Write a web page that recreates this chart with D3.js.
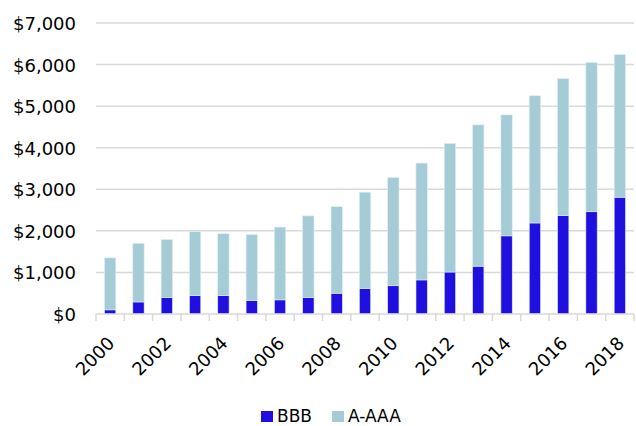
<!DOCTYPE html>
<html>
<head>
<meta charset="utf-8">
<script src="https://cdn.jsdelivr.net/npm/d3@7"></script>
<style>
  html, body { margin: 0; padding: 0; background: #fff; }
  svg { display: block; font-family: "DejaVu Sans", Verdana, sans-serif; }
</style>
</head>
<body>
<svg id="chart" width="636" height="426"></svg>
<script>
// Issuance by rating bucket, in $ billions
const years = ["2000","2001","2002","2003","2004","2005","2006","2007","2008","2009",
               "2010","2011","2012","2013","2014","2015","2016","2017","2018"];
const bbb   = [100, 290, 400, 440, 440, 320, 340, 400, 500, 610,
               680, 820, 1010, 1150, 1880, 2190, 2370, 2460, 2810];
const aAaa  = [1250, 1410, 1390, 1540, 1490, 1590, 1750, 1960, 2080, 2320,
               2600, 2810, 3090, 3400, 2910, 3060, 3290, 3590, 3430];
const seriesNames = ["BBB", "A-AAA"];
const seriesColors = ["#2010E0", "#A5CCD6"];
const yTicks = [0, 1000, 2000, 3000, 4000, 5000, 6000, 7000];
const xLabelYears = ["2000","2002","2004","2006","2008","2010","2012","2014","2016","2018"];

const svg = d3.select("#chart");
const margin = { left: 96, right: 2, top: 23, bottom: 112 };
const W = 636, H = 426;
const plotW = W - margin.left - margin.right;
const plotH = H - margin.top - margin.bottom;

const g = svg.append("g").attr("transform", `translate(${margin.left},${margin.top})`);

const x = d3.scaleBand().domain(years).range([0, plotW]).paddingInner(0.6).paddingOuter(0.3);
const y = d3.scaleLinear().domain([0, 7000]).range([plotH, 0]);

// horizontal gridlines
g.append("g").selectAll("line").data(yTicks.filter(v => v > 0)).join("line")
  .attr("x1", 0).attr("x2", plotW)
  .attr("y1", d => y(d)).attr("y2", d => y(d))
  .attr("stroke", "#D9D9D9").attr("stroke-width", 1.5);

// y axis labels
const yAxis = d3.axisLeft(y).tickValues(yTicks).tickSize(0).tickPadding(20)
  .tickFormat(d => "$" + d3.format(",")(d));
g.append("g").call(yAxis)
  .call(s => s.select(".domain").remove())
  .selectAll("text")
  .attr("font-size", 18).attr("fill", "#000").attr("font-family", "DejaVu Sans, Verdana, sans-serif")
  .attr("dy", "0.36em");

// stacked bars
const rows = years.map((yr, i) => ({ year: yr, BBB: bbb[i], "A-AAA": aAaa[i] }));
const stacked = d3.stack().keys(seriesNames)(rows);
g.append("g").selectAll("g").data(stacked).join("g")
  .attr("fill", (d, i) => seriesColors[i])
  .selectAll("rect").data(d => d).join("rect")
  .attr("x", d => x(d.data.year))
  .attr("width", x.bandwidth())
  .attr("y", d => y(d[1]))
  .attr("height", d => y(d[0]) - y(d[1]))
  .attr("stroke", "#DDEEF3").attr("stroke-width", 0.6);

// category axis with boundary ticks
const step = plotW / years.length;
const baseline = g.append("g").attr("transform", `translate(0,${plotH})`);
baseline.append("line").attr("x1", 0).attr("x2", plotW)
  .attr("stroke", "#D9D9D9").attr("stroke-width", 1.5);
baseline.selectAll("line.tick").data(d3.range(years.length + 1)).join("line")
  .attr("class", "tick")
  .attr("x1", i => i * step).attr("x2", i => i * step)
  .attr("y1", 0).attr("y2", 7)
  .attr("stroke", "#D9D9D9").attr("stroke-width", 1.5);

baseline.selectAll("text").data(xLabelYears).join("text")
  .attr("transform", d => `translate(${x(d) + x.bandwidth() / 2 + 1},${26}) rotate(-45)`)
  .attr("text-anchor", "end")
  .attr("dy", "0.35em")
  .attr("font-size", 18).attr("fill", "#000")
  .text(d => d);

// legend
const legend = svg.append("g").attr("transform", "translate(261,410)");
const items = legend.selectAll("g").data(seriesNames).join("g")
  .attr("transform", (d, i) => `translate(${i * 71},0)`);
items.append("rect").attr("y", 1).attr("width", 12).attr("height", 11)
  .attr("fill", (d, i) => seriesColors[i]);
items.append("text").attr("x", 16).attr("y", 6).attr("dy", "0.36em")
  .attr("font-size", 17).attr("fill", "#000")
  .text(d => d);
</script>
</body>
</html>
